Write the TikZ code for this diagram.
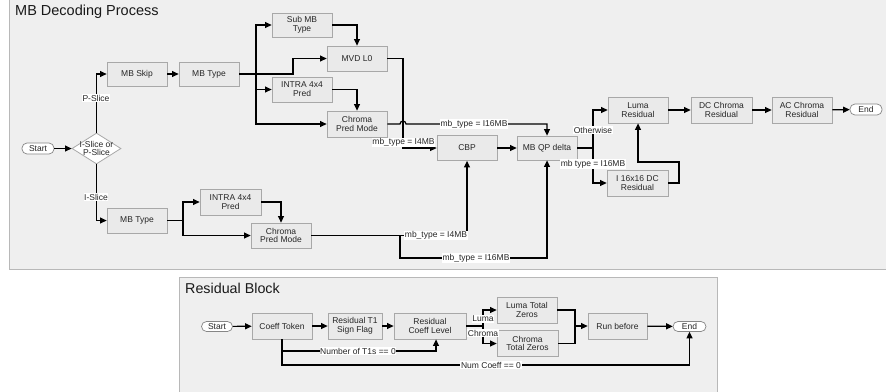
\documentclass[tikz,border=0pt]{standalone}
\usepackage{fontspec}
\setmainfont{Liberation Sans}
\usetikzlibrary{arrows.meta,shapes.geometric}

\definecolor{panelfill}{HTML}{EFEFEF}
\definecolor{panelline}{HTML}{B8B8B8}
\definecolor{boxfill}{HTML}{EAEAEA}
\definecolor{boxline}{HTML}{A8A8A8}

\tikzset{
  small/.style={font=\fontsize{8.5}{8.9}\selectfont, text=black!85},
  box/.style={small, draw=boxline, fill=boxfill, line width=0.8pt, inner sep=0pt,
    align=center, minimum width=60pt, minimum height=25pt},
  pill/.style={small, draw=boxline!80!black, fill=white, line width=0.7pt,
    rounded corners=5pt, minimum width=32pt, minimum height=11pt, inner sep=0pt},
  conn/.style={line width=1.2pt, -{Triangle[length=6.5pt,width=6pt]}},
  wire/.style={line width=1.2pt},
  lbl/.style={small, fill=white, inner sep=0.6pt},
  paneltitle/.style={font=\fontsize{14.5}{16}\selectfont, text=black!90, inner sep=0pt, anchor=base west},
}

\begin{document}
\begin{tikzpicture}[x=1pt,y=-1pt]
\useasboundingbox (0,0) rectangle (886,391);
\fill[white] (0,0) rectangle (886,391);

% panels
\draw[panelline, fill=panelfill, line width=0.8pt] (9,-2) rectangle (888,269);
\draw[panelline, fill=panelfill, line width=0.8pt] (179,277) rectangle (717,394);
\node[paneltitle] (t1) at (15,15.5) {MB Decoding Process};
\node[paneltitle, font=\fontsize{14.3}{16}\selectfont] (t2) at (185,293) {Residual Block};

% ===== main nodes =====
\node[pill] (start1) at (38,148.5) {Start};
\node[diamond, draw=boxline, fill=white, line width=0.8pt, minimum width=49pt, minimum height=31pt, inner sep=0pt] (dia) at (96.5,148.5) {};
\node[small, align=center, inner sep=0pt] (diatext) at (96.5,148.5) {I-Slice or\\P-Slice};
\node[box, minimum height=24pt] (mbskip) at (137,74) {MB Skip};
\node[box, minimum height=24pt] (mbtype1) at (209,74) {MB Type};
\node[box] (mbtype2) at (137,220.5) {MB Type};
\node[box, minimum width=61pt, minimum height=26pt] (intra2) at (230.5,202) {INTRA 4x4\\Pred};
\node[box] (chroma2) at (281,235.5) {Chroma\\Pred Mode};
\node[box, minimum height=24pt] (submb) at (302,25) {Sub MB\\Type};
\node[box] (mvd) at (357,58.5) {MVD L0};
\node[box] (intra1) at (302,89.5) {INTRA 4x4\\Pred};
\node[box, minimum height=26pt] (chroma1) at (357,124) {Chroma\\Pred Mode};
\node[box] (cbp) at (467,148) {CBP};
\node[box, minimum height=24pt] (mbqp) at (547,148) {MB QP delta};
\node[box, minimum height=26pt] (luma) at (638,110) {Luma\\Residual};
\node[box, minimum width=61pt, minimum height=26pt] (dcc) at (721.5,110) {DC Chroma\\Residual};
\node[box, minimum height=26pt] (acc) at (802,110) {AC Chroma\\Residual};
\node[pill] (end1) at (866,109.5) {End};
\node[box, minimum width=61pt, minimum height=26pt] (i16) at (637.5,183) {I 16x16 DC\\Residual};

% junctions
\coordinate (j1) at (256,74);
\coordinate (j2) at (400,235.5);
\coordinate (j2b) at (547,258);
\coordinate (j3) at (593,148);

% ===== main connectors =====
\draw[conn] (start1) -- (dia);
\draw[conn] (dia.north) |- (mbskip.west);
\draw[conn] (dia.south) |- (mbtype2.west);
\draw[conn] (mbskip) -- (mbtype1);
\draw[conn] (mbtype1.east) -- (293,74) |- (mvd.west);
\draw[wire] (j1 |- submb.west) -- (j1 |- chroma1.west);
\draw[conn] (j1) |- (submb.west);
\draw[conn] (j1) |- (intra1.west);
\draw[conn] (j1) |- (chroma1.west);
\draw[conn] (submb.east) -| (mvd.north);
\draw[conn] (intra1.east) -| (chroma1.north);
\draw[conn] (mvd.east) -| (403,148) -- (cbp.west);
\draw[conn] (chroma1.east) -- (400,124) arc[start angle=180, end angle=360, radius=3] -- (547,124) -- (mbqp.north);
\draw[wire] (mbtype2.east) -- (183,220.5);
\draw[conn] (183,220.5) |- (intra2.west);
\draw[conn] (183,220.5) |- (chroma2.west);
\draw[conn] (intra2.east) -| (chroma2.north);
\draw[conn] (chroma2.east) -| (cbp.south);
\draw[conn] (j2) |- (j2b) -- (mbqp.south);
\draw[conn] (cbp) -- (mbqp);
\draw[wire] (mbqp.east) -- (j3);
\draw[conn] (j3) |- (luma.west);
\draw[conn] (j3) |- (i16.west);
\draw[conn] (luma) -- (dcc);
\draw[conn] (dcc) -- (acc);
\draw[conn] (acc) -- (end1);
\draw[conn] (i16.east) -- (679,183) -- (679,162) -| (luma.south);

% main labels
\node[lbl] (lp) at (96,98) {P-Slice};
\node[lbl] (li) at (96,197) {I-Slice};
\node[lbl] (l1) at (403.5,142.5) {mb\_type = I4MB};
\node[lbl] (l2) at (474,124) {mb\_type = I16MB};
\node[lbl] (l3) at (436,235.5) {mb\_type = I4MB};
\node[lbl] (l4) at (476,258) {mb\_type = I16MB};
\node[lbl] (l5) at (593,130) {Otherwise};
\node[lbl] (l6) at (593,164) {mb type = I16MB};

% ===== residual block =====
\node[pill, minimum width=31pt, minimum height=10pt] (start2) at (217,326.5) {Start};
\node[box, minimum height=26pt] (ct) at (282,326) {Coeff Token};
\node[box, minimum width=54pt, minimum height=26pt] (t1s) at (355,326) {Residual T1\\Sign Flag};
\node[box, minimum width=72pt, minimum height=26pt] (cl) at (430,326) {Residual\\Coeff Level};
\node[box, minimum height=26pt] (ltz) at (527,310) {Luma Total\\Zeros};
\node[box, minimum width=61pt, minimum height=26pt] (ctz) at (527.5,343.5) {Chroma\\Total Zeros};
\node[box, minimum width=59pt, minimum height=26pt] (rb) at (617.5,326) {Run before};
\node[pill, minimum width=33pt, minimum height=10pt] (end2) at (689.5,326.5) {End};

\coordinate (j4) at (483,326);
\coordinate (j5) at (575,326);
\coordinate (k1) at (436,351);
\coordinate (k2) at (689.5,365);

\draw[conn] (start2) -- (ct);
\draw[conn] (ct) -- (t1s);
\draw[conn] (t1s) -- (cl);
\draw[wire] (cl.east) -- (j4);
\draw[conn] (j4) |- (ltz.west);
\draw[conn] (j4) |- (ctz.west);
\draw[wire] (ltz.east) -| (j5);
\draw[wire] (ctz.east) -| (j5);
\draw[conn] (j5) -- (rb.west);
\draw[conn] (rb) -- (end2);
\draw[conn] (ct.south) |- (k1) -- (cl.south -| k1);
\draw[conn] (ct.south) |- (k2) -- (end2.south);

\node[lbl] (rl1) at (483,319) {Luma};
\node[lbl] (rl2) at (483,333) {Chroma};
\node[lbl] (rl3) at (358,351) {Number of T1s == 0};
\node[lbl] (rl4) at (491,365) {Num Coeff == 0};
\end{tikzpicture}
\end{document}
